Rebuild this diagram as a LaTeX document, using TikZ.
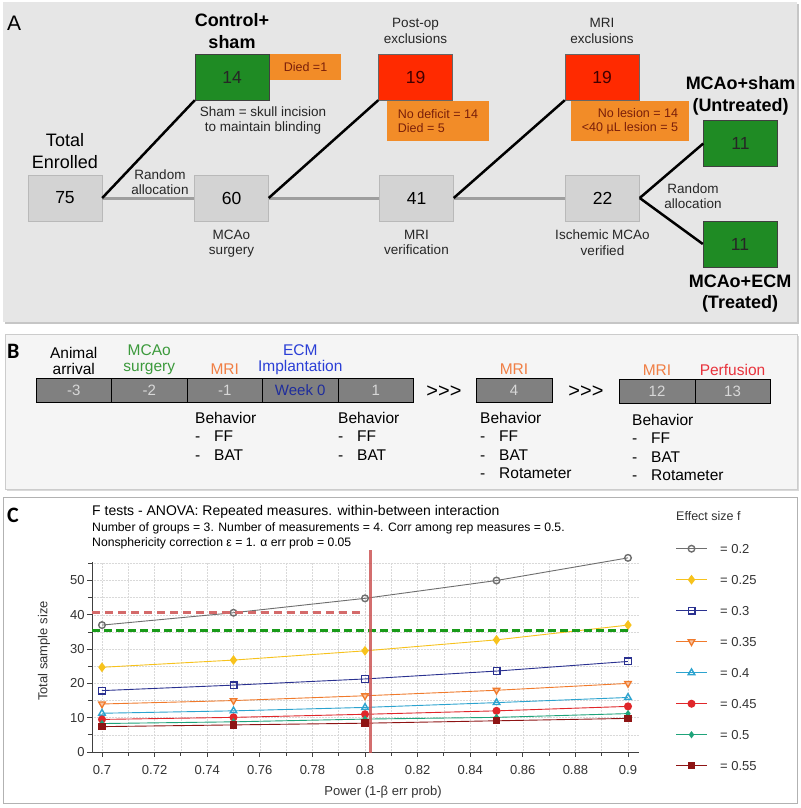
\documentclass[tikz,border=0pt]{standalone}
\usepackage{fontspec}
\setmainfont{Liberation Sans}
\newfontfamily\panelfont{Carlito}
\usetikzlibrary{positioning,plotmarks}

\definecolor{panelA}{HTML}{E6E6E6}
\definecolor{panelB}{HTML}{F5F5F5}
\definecolor{boxgray}{HTML}{D3D3D3}
\definecolor{grpgreen}{HTML}{1F8B24}
\definecolor{exred}{HTML}{FF2A00}
\definecolor{whyorange}{HTML}{F28C28}
\definecolor{whytext}{HTML}{7A1F0A}
\definecolor{flowgray}{HTML}{9E9E9E}
\definecolor{daygray}{HTML}{808080}
\definecolor{daytext}{HTML}{D8D8D8}
\definecolor{evgreen}{HTML}{3C9A3C}
\definecolor{evorange}{HTML}{F07F45}
\definecolor{evblue}{HTML}{2B3FD6}
\definecolor{evred}{HTML}{E8333C}
\definecolor{weekblue}{HTML}{1F2D9C}
\definecolor{c020}{HTML}{6E6E6E}
\definecolor{c025}{HTML}{F7C21C}
\definecolor{c030}{HTML}{2A3190}
\definecolor{c035}{HTML}{F07A2C}
\definecolor{c040}{HTML}{2CA3CF}
\definecolor{c045}{HTML}{E0272A}
\definecolor{c050}{HTML}{1FA37A}
\definecolor{c055}{HTML}{8E1414}
\definecolor{powred}{HTML}{CC5555}
\definecolor{nred}{HTML}{D46A6A}
\definecolor{ngreen}{HTML}{199A19}

\newcommand{\bitem}[1]{\makebox[19pt][l]{-}#1}

\tikzset{
    cnt/.style={draw=gray!55, fill=boxgray, minimum width=74pt, minimum height=46pt,
        inner sep=0pt, font=\fontsize{17.5}{20}\selectfont},
    grp/.style={cnt, fill=grpgreen, draw=black!75, text=black!85},
    excl/.style={cnt, fill=exred, draw=black!60, text=black!75!red},
    why/.style={fill=whyorange, inner sep=0pt, text=whytext, font=\fontsize{12.5}{14}\selectfont},
    big/.style={align=center, font=\fontsize{18}{22}\selectfont},
    head/.style={align=center, font=\bfseries\fontsize{18}{21.5}\selectfont},
    note/.style={align=center, text=black!85, font=\fontsize{13.5}{15.5}\selectfont},
    flow/.style={draw=flowgray, line width=3pt},
    split/.style={draw=black, line width=2.5pt},
    day/.style={draw=black, fill=daygray, minimum width=75.5pt, minimum height=24pt,
        inner sep=0pt, outer sep=0pt, text=daytext, font=\fontsize{15}{18}\selectfont},
    evt/.style={align=center, font=\fontsize{15.5}{16}\selectfont},
    beh/.style={align=left, anchor=north west, inner sep=0pt, font=\fontsize{15.5}{18.5}\selectfont},
    tick/.style={inner sep=0pt, text=black!80, font=\fontsize{13}{15}\selectfont},
    gridln/.style={gray!30, line width=0.5pt, densely dotted},
    axisln/.style={black!75, line width=0.8pt},
    ser/.style={line width=0.9pt, mark size=3.3pt, mark options={solid, line width=1.4pt}},
    f020/.style={ser, color=c020, mark=o},
    f025/.style={ser, color=c025, mark=diamond*, mark size=3.8pt},
    f030/.style={ser, color=c030, mark=square},
    f035/.style={ser, color=c035, mark=triangle*, mark size=3.8pt,
        mark options={solid, rotate=180, fill=c035!45, draw=c035, line width=1.3pt}},
    f040/.style={ser, color=c040, mark=triangle, mark size=3.8pt},
    f045/.style={ser, color=c045, mark=*},
    f050/.style={ser, color=c050, mark=diamond*, mark size=2.5pt},
    f055/.style={ser, color=c055, mark=square*, mark size=3pt}
}

\begin{document}
\begin{tikzpicture}[x=1pt, y=-1pt]
\useasboundingbox (0,0) rectangle (800,808);

% Panel backgrounds
\fill[gray!45] (5,4) rectangle (799,324);
\fill[panelA] (3,2) rectangle (797,322);
\fill[gray!30] (7,336) rectangle (799,491);
\filldraw[draw=gray!40, fill=panelB] (5,334) rectangle (797,489);
\filldraw[draw=gray!60, line width=1pt, fill=white] (3,497) rectangle (797,803);

\node[anchor=base west, inner sep=0pt, font=\fontsize{21}{21}\selectfont] (labA) at (7,31) {A};
\node[anchor=base west, inner sep=0pt, font=\panelfont\bfseries\fontsize{22}{22}\selectfont] (labB) at (7,358) {B};
\node[anchor=base west, inner sep=0pt, font=\panelfont\bfseries\fontsize{22}{22}\selectfont] (labC) at (7,522) {C};

% Panel A: counts
\node[cnt] (n75) at (65,198) {75};
\node[cnt] (n60) at (231.5,198) {60};
\node[cnt] (n41) at (416.5,198) {41};
\node[cnt] (n22) at (602.5,198) {22};
\node[grp] (ctrl) at (232,77) {14};
\node[excl] (postop) at (415.5,77) {19};
\node[excl] (mriex) at (602,77) {19};
\node[grp] (untr) at (740.5,143.5) {11};
\node[grp] (trt) at (740,244) {11};

\node[why, minimum width=71pt, minimum height=26pt] (died) at (305.5,67) {Died =1};
\node[why, minimum width=102pt, minimum height=40pt, align=left] (postwhy) at (438,121) {No deficit = 14\\Died = 5};
\node[why, minimum width=118pt, minimum height=40pt, align=right] (mriwhy) at (630,121) {No lesion = 14\\<40 µL lesion = 5};

\node[big, above=3pt of n75] (tot) {Total\\Enrolled};
\node[head, above=2pt of ctrl] (ctrlh) {Control+\\sham};
\node[note, above=7pt of postop] (posth) {Post-op\\exclusions};
\node[note, above=7pt of mriex] (mrih) {MRI\\exclusions};
\node[head, above=2pt of untr] (untrh) {MCAo+sham\\(Untreated)};
\node[head, below=4pt of trt] (trth) {MCAo+ECM\\(Treated)};
\node[note, anchor=north] (shamnote) at (263,103) {Sham = skull incision\\to maintain blinding};
\node[note, below=5pt of n60] (surg) {MCAo\\surgery};
\node[note, below=5pt of n41] (veri) {MRI\\verification};
\node[note, below=5pt of n22] (isch) {Ischemic MCAo\\verified};
\node[note] (rand1) at (160,182) {Random\\allocation};
\node[note] (rand2) at (693,196) {Random\\allocation};

% Panel A: flow
\draw[flow] (n75.east) -- (n60.west);
\draw[flow] (n60.east) -- (n41.west);
\draw[flow] (n41.east) -- (n22.west);
\draw[split] (n75.east) -- (ctrl.south west);
\draw[split] (n60.east) -- (postop.south west);
\draw[split] (n41.east) -- (mriex.south west);
\draw[split] (n22.east) -- (untr.west);
\draw[split] (n22.east) -- (trt.west);

% Panel B: timeline
\node[day] (dm3) at (73.75,390) {-3};
\node[day, right=0pt of dm3] (dm2) {-2};
\node[day, right=0pt of dm2] (dm1) {-1};
\node[day, right=0pt of dm1, text=weekblue] (dw0) {Week 0};
\node[day, right=0pt of dw0] (d1) {1};
\node[day] (d4) at (514,390) {4};
\node[day] (d12) at (657,391.5) {12};
\node[day, right=0pt of d12] (d13) {13};
\node[font=\fontsize{20}{20}\selectfont] (gap1) at (444,392) {>{}>{}>};
\node[font=\fontsize{20}{20}\selectfont] (gap2) at (586,392) {>{}>{}>};

\node[evt, above=0pt of dm3] (ev1) {Animal\\arrival};
\node[evt, above=0pt of dm2, text=evgreen] (ev2) {MCAo\\surgery};
\node[evt, above=0pt of dm1, text=evorange] (ev3) {MRI};
\node[evt, above=0pt of dw0, text=evblue] (ev4) {ECM\\Implantation};
\node[evt, above=0pt of d4, text=evorange] (ev5) {MRI};
\node[evt, above=0pt of d12, text=evorange] (ev6) {MRI};
\node[evt, above=0pt of d13, text=evred] (ev7) {Perfusion};

\node[beh] (bh1) at (195,412) {Behavior\\\bitem{FF}\\\bitem{BAT}};
\node[beh] (bh2) at (338,412) {Behavior\\\bitem{FF}\\\bitem{BAT}};
\node[beh] (bh3) at (480,412) {Behavior\\\bitem{FF}\\\bitem{BAT}\\\bitem{Rotameter}};
\node[beh] (bh4) at (632,414) {Behavior\\\bitem{FF}\\\bitem{BAT}\\\bitem{Rotameter}};

% Panel C: power plot
\node[anchor=base west, inner sep=0pt, font=\fontsize{14}{16}\selectfont] (ttl) at (92,515)
    {F tests - ANOVA: Repeated measures. within-between interaction};
\node[anchor=base west, inner sep=0pt, font=\fontsize{12.2}{14}\selectfont] (sub1) at (92,531.5)
    {Number of groups = 3. Number of measurements = 4. Corr among rep measures = 0.5.};
\node[anchor=base west, inner sep=0pt, font=\fontsize{12.2}{14}\selectfont] (sub2) at (92,546)
    {Nonsphericity correction ε = 1. α err prob = 0.05};

\begin{scope}[shift={(-1739,752)}, x=2630pt, y=3.43pt]
    \foreach \k in {0,...,20}
        \draw[gridln] ({0.7+\k/100},0) -- ({0.7+\k/100},55.4);
    \foreach \v in {5,10,...,55}
        \draw[gridln] (0.6962,\v) -- (0.9042,\v);
    \draw[axisln] (0.6962,55.4) -- (0.6962,0) -- (0.9042,0);
    \foreach \v in {0,10,...,50}
        \draw[axisln] (0.6962,\v) -- ++(-5pt,0) node[left=2pt, tick] (yt\v) {\v};
    \foreach \v in {5,15,...,55}
        \draw[axisln] (0.6962,\v) -- ++(-4pt,0);
    \foreach \p/\t in {0.70/0.7, 0.72/0.72, 0.74/0.74, 0.76/0.76, 0.78/0.78, 0.80/0.8,
                       0.82/0.82, 0.84/0.84, 0.86/0.86, 0.88/0.88, 0.90/0.9}
        \draw[axisln] (\p,0) -- ++(0,-5pt) node[below=8pt, tick] (xt\t) {\t};
    \foreach \k in {1,3,...,19}
        \draw[axisln] ({0.7+\k/100},0) -- ++(0,-4pt);

    \draw[f020] plot coordinates {(0.7,37) (0.75,40.6) (0.8,44.8) (0.85,50) (0.9,56.6)};
    \draw[f025] plot coordinates {(0.7,24.7) (0.75,26.8) (0.8,29.5) (0.85,32.7) (0.9,37)};
    \draw[f030] plot coordinates {(0.7,17.9) (0.75,19.5) (0.8,21.3) (0.85,23.6) (0.9,26.4)};
    \draw[f035] plot coordinates {(0.7,14) (0.75,15) (0.8,16.4) (0.85,18) (0.9,20)};
    \draw[f040] plot coordinates {(0.7,11.3) (0.75,12) (0.8,13) (0.85,14.4) (0.9,15.9)};
    \draw[f045] plot coordinates {(0.7,9.5) (0.75,10.1) (0.8,11) (0.85,12) (0.9,13.3)};
    \draw[f050] plot coordinates {(0.7,8.3) (0.75,8.8) (0.8,9.6) (0.85,10.1) (0.9,11.2)};
    \draw[f055] plot coordinates {(0.7,7.4) (0.75,7.9) (0.8,8.4) (0.85,9.1) (0.9,9.8)};

    \draw[nred, line width=3pt, dash pattern=on 8pt off 5pt] (0.6962,40.8) -- (0.8,40.8);
    \draw[ngreen, line width=3pt, dash pattern=on 8pt off 4pt] (0.6962,35.4) -- (0.9,35.4);
    \draw[powred, opacity=0.85, line width=3.5pt] (0.802,-0.3) -- (0.802,58.9);
\end{scope}

\node[tick, anchor=base] (xlab) at (383,795) {Power (1-β err prob)};
\node[tick, rotate=90] (ylab) at (44,651) {Total sample size};

% Legend
\node[tick, anchor=base west, font=\fontsize{12.5}{14}\selectfont] (lgt) at (676,520) {Effect size f};
\foreach \s/\t [count=\i] in {f020/0.2, f025/0.25, f030/0.3, f035/0.35,
                              f040/0.4, f045/0.45, f050/0.5, f055/0.55} {
    \pgfmathsetmacro\ly{548.7+31*(\i-1)}
    \draw[\s] (676,\ly) -- (707,\ly);
    \draw[\s] plot coordinates {(691.5,\ly)};
    \node[tick, anchor=west] (lg\i) at (720,\ly) {= \t};
}

\end{tikzpicture}
\end{document}
